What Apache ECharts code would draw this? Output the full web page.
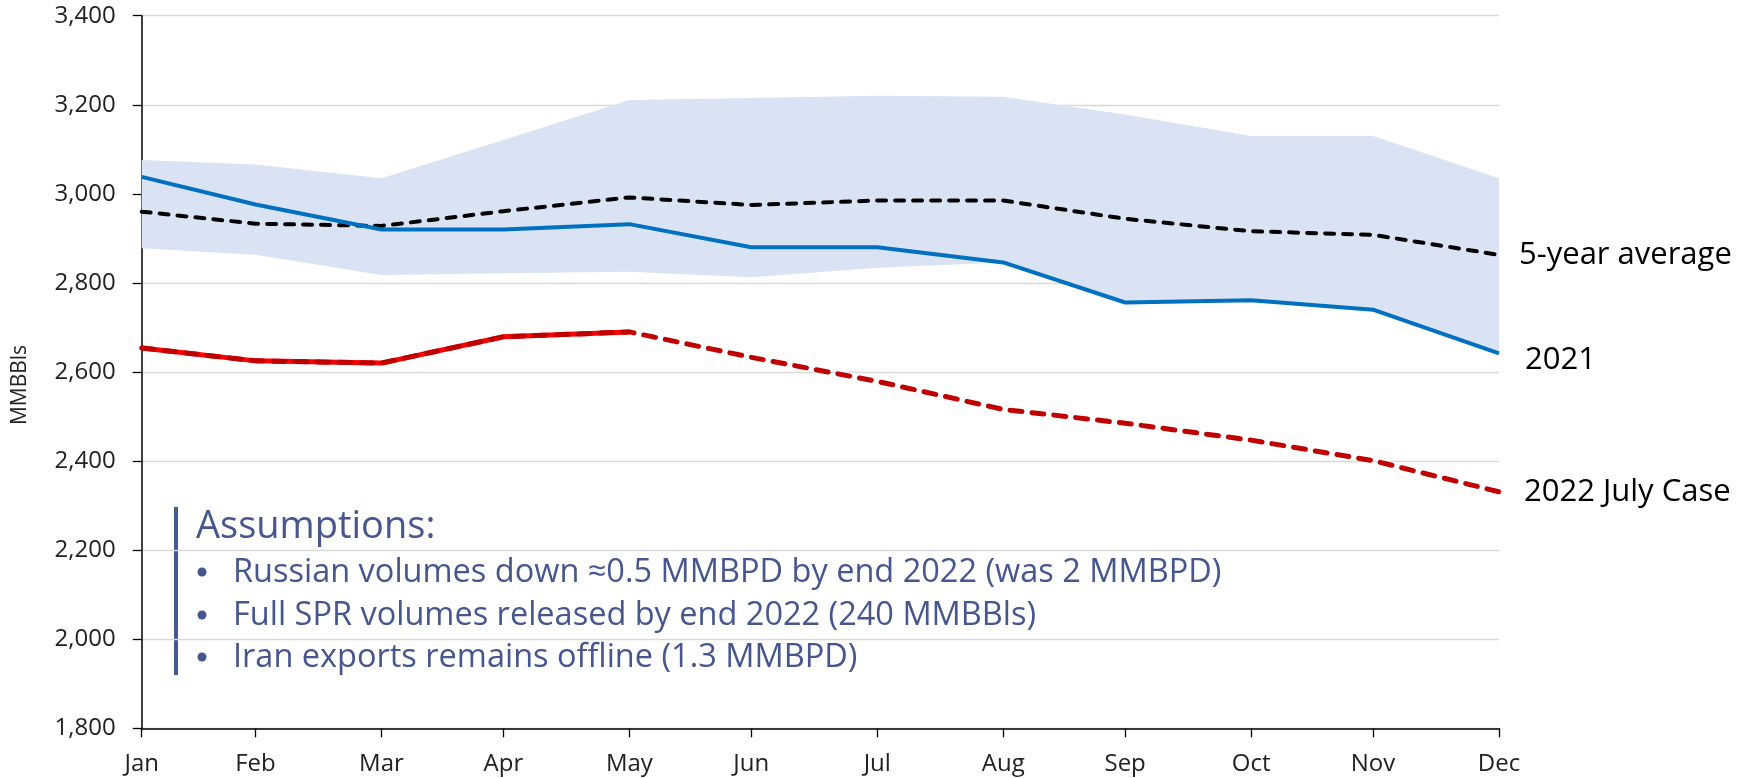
<!DOCTYPE html>
<html>
<head>
<meta charset="utf-8">
<script src="https://cdn.jsdelivr.net/npm/echarts@6/dist/echarts.min.js"></script>
<style>
html,body{margin:0;padding:0;background:#fff;}
#chart{width:1748px;height:778px;}
</style>
</head>
<body>
<div id="chart"></div>
<script>
// ---- data ----
const months = ['Jan','Feb','Mar','Apr','May','Jun','Jul','Aug','Sep','Oct','Nov','Dec'];
// month-end day of year (points are plotted at month ends on a date scale)
const monthEndDay = [31,59,90,120,151,181,212,243,273,304,334,365];
const yTicks = [1800,2000,2200,2400,2600,2800,3000,3200,3400];
const range5yLow  = [2878,2863,2818,2822,2825,2813,2834,2846,2756,2761,2740,2642];
const range5yHigh = [3076,3066,3035,3121,3211,3215,3220,3218,3178,3130,3130,3035];
const avg5y       = [2960,2933,2928,2961,2992,2975,2985,2985,2944,2916,2908,2863];
const y2021       = [3038,2976,2920,2920,2932,2880,2880,2846,2756,2761,2740,2642];
const y2022Actual = [2654,2625,2620,2679,2690];
const y2022JulyCase = [2654,2625,2620,2679,2690,2633,2579,2516,2485,2447,2401,2331];
const assumptionsTitle = 'Assumptions:';
const assumptions = [
  'Russian volumes down \u22480.5 MMBPD by end 2022 (was 2 MMBPD)',
  'Full SPR volumes released by end 2022 (240 MMBBls)',
  'Iran exports remains offline (1.3 MMBPD)'
];

const FONT = 'Open Sans';
const NOTE = '#46568E';
const pts = arr => arr.map((v, i) => [monthEndDay[i], v]);
const bandRows = monthEndDay.map((d, i) => [d, range5yLow[i], range5yHigh[i]]);

const chart = echarts.init(document.getElementById('chart'), null, {renderer: 'canvas'});

const graphic = [
  {type: 'rect', shape: {x: 174, y: 507, width: 4, height: 168}, style: {fill: NOTE}},
  {type: 'text', x: 196, y: 527.5, style: {text: assumptionsTitle, fill: NOTE, font: '38px "Open Sans"', textAlign: 'left', textVerticalAlign: 'middle'}},
  {type: 'text', x: 826, y: 147, style: {text: '5-year range', fill: NOTE, font: '31px "Open Sans"', textAlign: 'center', textVerticalAlign: 'middle'}},
  {type: 'text', x: 20, y: 385, rotation: Math.PI / 2, style: {text: 'MMBBls', fill: '#222', font: '21px "Open Sans"', textAlign: 'center', textVerticalAlign: 'middle'}}
];
const bulletY = [573, 616, 658];
assumptions.forEach((t, i) => {
  graphic.push({type: 'circle', shape: {cx: 202, cy: bulletY[i] - 1, r: 4.5}, style: {fill: NOTE}});
  graphic.push({type: 'text', x: 233, y: bulletY[i], style: {text: t, fill: NOTE, font: '32.5px "Open Sans"', textAlign: 'left', textVerticalAlign: 'middle'}});
});

function renderBand(params, api) {
  if (params.dataIndex !== 0) return;
  const upper = bandRows.map(r => api.coord([r[0], r[2]]));
  const lower = bandRows.map(r => api.coord([r[0], r[1]])).reverse();
  return {
    type: 'polygon',
    shape: {points: upper.concat(lower)},
    style: {fill: '#DAE3F3', stroke: null},
    silent: true
  };
}

const option = {
  animation: false,
  backgroundColor: '#fff',
  textStyle: {fontFamily: FONT},
  grid: {left: 141.7, right: 249, top: 15.7, bottom: 49.7, containLabel: false},
  xAxis: {
    type: 'value',
    min: monthEndDay[0],
    max: monthEndDay[monthEndDay.length - 1],
    splitLine: {show: false},
    axisLine: {show: true, lineStyle: {color: '#000', width: 1.5}},
    axisTick: {show: true, length: 9, inside: false, customValues: monthEndDay, lineStyle: {color: '#000', width: 1.3}},
    axisLabel: {
      customValues: monthEndDay,
      margin: 24, fontSize: 24, color: '#222', fontFamily: FONT,
      formatter: v => months[monthEndDay.indexOf(v)] || ''
    }
  },
  yAxis: {
    type: 'value',
    min: yTicks[0], max: yTicks[yTicks.length - 1], interval: 200,
    axisLine: {show: true, lineStyle: {color: '#000', width: 1.5}},
    axisTick: {show: true, length: 9, inside: false, lineStyle: {color: '#000', width: 1.3}},
    splitLine: {show: true, lineStyle: {color: '#d9d9d9', width: 1.3}},
    axisLabel: {margin: 26, fontSize: 24, color: '#222', fontFamily: FONT,
      formatter: v => v.toLocaleString('en-US')}
  },
  graphic: graphic,
  series: [
    {name: '5-year range', type: 'custom', renderItem: renderBand, data: bandRows,
     encode: {x: 0, y: [1, 2]}, z: 1, silent: true},
    {name: '5-year average', type: 'line', data: pts(avg5y), symbol: 'none', z: 3,
     lineStyle: {color: '#000', width: 4, type: [9, 9], cap: 'round'},
     endLabel: {show: true, formatter: '5-year average', color: '#000', fontSize: 31, fontFamily: FONT, distance: 20}},
    {name: '2021', type: 'line', data: pts(y2021), symbol: 'none', z: 4,
     lineStyle: {color: '#0070C0', width: 4},
     endLabel: {show: true, formatter: '2021', color: '#000', fontSize: 31, fontFamily: FONT, distance: 26, offset: [0, 7]}},
    {name: '2022 actual', type: 'line', data: pts(y2022Actual), symbol: 'none', z: 5,
     lineStyle: {color: '#FF0000', width: 5}},
    {name: '2022 July Case', type: 'line', data: pts(y2022JulyCase), symbol: 'none', z: 6,
     lineStyle: {color: '#C00000', width: 5, type: [12, 10], cap: 'round'},
     endLabel: {show: true, formatter: '2022 July Case', color: '#000', fontSize: 31, fontFamily: FONT, distance: 25}}
  ]
};
chart.setOption(option);
</script>
</body>
</html>
